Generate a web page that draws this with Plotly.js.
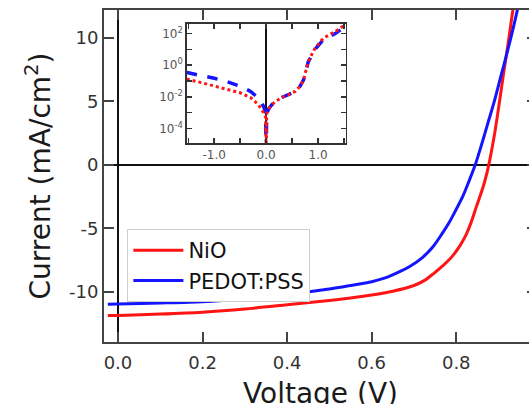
<!DOCTYPE html>
<html>
<head>
<meta charset="utf-8">
<script src="https://cdn.plot.ly/plotly-3.0.1.min.js"></script>
<style>
html,body{margin:0;padding:0;overflow:hidden;background:#fff;width:529px;height:404px;}
#chart{width:545px;height:420px;}
</style>
</head>
<body>
<div id="chart"></div>
<script>
// Main J-V curves (illuminated)
const nioV = [-0.024, 0.0, 0.1, 0.2, 0.3, 0.4, 0.5, 0.55, 0.6, 0.65, 0.7, 0.725, 0.745, 0.77, 0.792, 0.81, 0.824, 0.835, 0.847, 0.857, 0.867, 0.877, 0.89, 0.902, 0.912, 0.922, 0.934, 0.94];
const nioJ = [-11.87, -11.86, -11.75, -11.6, -11.35, -11.02, -10.68, -10.48, -10.25, -9.95, -9.5, -9.1, -8.6, -7.9, -7.15, -6.3, -5.45, -4.55, -3.35, -2.4, -1.35, 0, 2.3, 4.9, 7.2, 9.4, 12.2, 13.6];
const pedotV = [-0.024, 0.0, 0.1, 0.2, 0.3, 0.4, 0.45, 0.5, 0.55, 0.6, 0.63, 0.66, 0.69, 0.72, 0.745, 0.765, 0.784, 0.8, 0.816, 0.83, 0.845, 0.86, 0.875, 0.89, 0.905, 0.92, 0.935, 0.95];
const pedotJ = [-10.97, -10.95, -10.88, -10.78, -10.55, -10.22, -10.0, -9.78, -9.5, -9.2, -8.92, -8.5, -8.0, -7.3, -6.45, -5.5, -4.5, -3.5, -2.45, -1.3, 0, 1.6, 3.3, 5.0, 6.9, 8.8, 10.8, 13.0];

// Inset: |J| (dark) on log scale
const insetNioV = [-1.53, -1.5, -1.25, -1.0, -0.75, -0.5, -0.3, -0.15, -0.05, -0.01, 0.0, 0.01, 0.05, 0.11, 0.2, 0.3, 0.45, 0.56, 0.65, 0.72, 0.81, 0.94, 1.1, 1.33, 1.52];
const insetNioJ = [0.13, 0.126, 0.079, 0.047, 0.030, 0.018, 0.0089, 0.0032, 0.001, 0.0005, 0.000001, 0.0008, 0.0018, 0.0032, 0.0056, 0.0091, 0.0148, 0.022, 0.045, 0.117, 1.7, 11.7, 51, 135, 355];
const insetPedotV = [-1.53, -1.5, -1.25, -1.0, -0.75, -0.5, -0.3, -0.15, -0.05, -0.01, 0.0, 0.01, 0.05, 0.11, 0.2, 0.3, 0.45, 0.56, 0.65, 0.72, 0.81, 0.94, 1.1, 1.33, 1.52];
const insetPedotJ = [0.34, 0.33, 0.22, 0.15, 0.089, 0.047, 0.022, 0.0083, 0.0025, 0.001, 0.000001, 0.0008, 0.0018, 0.0032, 0.0056, 0.0091, 0.0148, 0.022, 0.045, 0.117, 1.6, 10, 40, 100, 280];

// Tick labels
const xTickVals = [0, 0.2, 0.4, 0.6, 0.8];
const xTickText = ['0.0', '0.2', '0.4', '0.6', '0.8'];
const yTickVals = [-10, -5, 0, 5, 10];
const yTickText = ['-10', '-5', '0', '5', '10'];
const insetXTickVals = [-1, 0, 1];
const insetXTickText = ['-1.0', '0.0', '1.0'];
const insetXMinorVals = [-1.5, -0.5, 0.5, 1.5];
const insetYTickVals = [1e-4, 1e-2, 1, 100];
const insetYTickText = ['10<sup>-4</sup>', '10<sup>-2</sup>', '10<sup>0</sup>', '10<sup>2</sup>'];
const insetYMinorVals = [1e-5, 1e-3, 1e-1, 10];

const RED = '#ff1414';
const BLUE = '#1414ff';
const FONT = 'DejaVu Sans, sans-serif';

const traces = [
  {x: nioV, y: nioJ, type: 'scatter', mode: 'lines', name: 'NiO',
   line: {color: RED, width: 3, shape: 'spline', smoothing: 0.8}, xaxis: 'x', yaxis: 'y'},
  {x: pedotV, y: pedotJ, type: 'scatter', mode: 'lines', name: 'PEDOT:PSS',
   line: {color: BLUE, width: 3, shape: 'spline', smoothing: 0.8}, xaxis: 'x', yaxis: 'y'},
  {x: insetPedotV, y: insetPedotJ, type: 'scatter', mode: 'lines', showlegend: false,
   line: {color: BLUE, width: 3.5, dash: 'dash'}, xaxis: 'x2', yaxis: 'y2'},
  {x: insetNioV, y: insetNioJ, type: 'scatter', mode: 'lines', showlegend: false,
   line: {color: RED, width: 3, dash: 'dot'}, xaxis: 'x2', yaxis: 'y2'}
];

const layout = {
  width: 545, height: 420,
  margin: {l: 104, r: 8, t: 10, b: 78, pad: 0},
  paper_bgcolor: '#fff', plot_bgcolor: 'rgba(0,0,0,0)',
  font: {family: FONT, color: '#222'},
  showlegend: true,
  legend: {
    x: 0.054, y: 0.34, xanchor: 'left', yanchor: 'top',
    bgcolor: '#fff', bordercolor: '#cfcfcf', borderwidth: 1,
    font: {family: FONT, size: 21, color: '#111'},
    itemwidth: 50, tracegroupgap: 0
  },
  xaxis: {
    domain: [0, 1], range: [-0.033, 0.991],
    tickvals: xTickVals, ticktext: xTickText,
    ticks: 'inside', ticklen: 10, tickwidth: 2, tickcolor: '#444',
    showline: true, linecolor: '#444', linewidth: 2, mirror: 'ticks',
    showgrid: false, zeroline: true, zerolinecolor: '#111', zerolinewidth: 1.5,
    tickfont: {family: FONT, size: 18, color: '#333'}, ticklabelstandoff: 3,
    title: {text: 'Voltage (V)', font: {family: FONT, size: 28, color: '#1a1a1a'}, standoff: 12},
    automargin: false
  },
  yaxis: {
    domain: [0, 1], range: [-13.95, 12.19],
    tickvals: yTickVals, ticktext: yTickText,
    ticks: 'inside', ticklen: 10, tickwidth: 2, tickcolor: '#444',
    showline: true, linecolor: '#444', linewidth: 2, mirror: 'ticks',
    showgrid: false, zeroline: true, zerolinecolor: '#111', zerolinewidth: 1.5,
    tickfont: {family: FONT, size: 18, color: '#333'},
    title: {text: 'Current (mA/cm<sup>2</sup>)', font: {family: FONT, size: 28, color: '#1a1a1a'}, standoff: 10},
    automargin: false
  },
  xaxis2: {
    domain: [0.191, 0.558], anchor: 'y2', range: [-1.53, 1.53],
    tickvals: insetXTickVals, ticktext: insetXTickText,
    minor: {tickvals: insetXMinorVals, ticks: 'inside', ticklen: 5, tickwidth: 1.5, tickcolor: '#333', showgrid: false},
    ticks: 'inside', ticklen: 5, tickwidth: 1.5, tickcolor: '#333',
    showline: true, linecolor: '#333', linewidth: 1.5, mirror: 'ticks',
    showgrid: false, zeroline: true, zerolinecolor: '#111', zerolinewidth: 1.5,
    tickfont: {family: FONT, size: 12, color: '#555'}
  },
  yaxis2: {
    domain: [0.598, 0.959], anchor: 'x2', type: 'log', range: [-4.95, 2.63],
    tickvals: insetYTickVals, ticktext: insetYTickText,
    minor: {tickvals: insetYMinorVals, ticks: 'inside', ticklen: 5, tickwidth: 1.5, tickcolor: '#333', showgrid: false},
    ticks: 'inside', ticklen: 5, tickwidth: 1.5, tickcolor: '#333',
    showline: true, linecolor: '#333', linewidth: 1.5, mirror: 'ticks',
    showgrid: false, zeroline: false,
    tickfont: {family: FONT, size: 12, color: '#555'}
  }
};

Plotly.newPlot('chart', traces, layout, {staticPlot: true, displayModeBar: false});
</script>
</body>
</html>
